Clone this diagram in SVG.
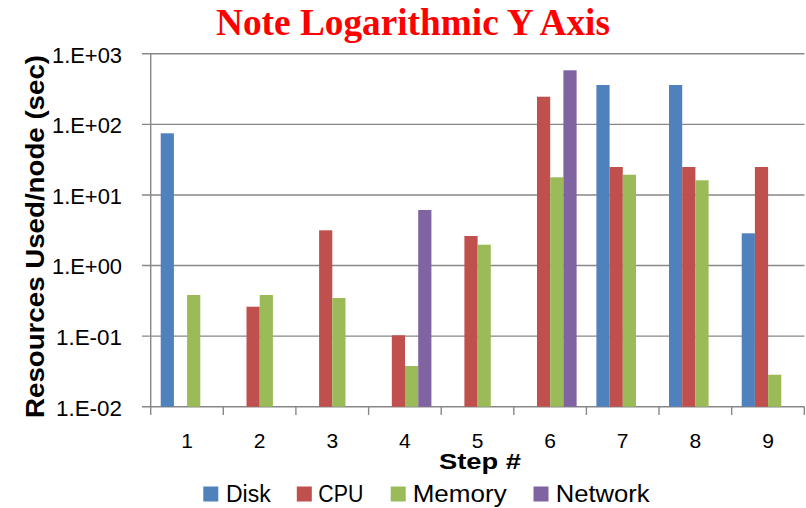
<svg xmlns="http://www.w3.org/2000/svg" width="806" height="508" viewBox="0 0 806 508">
  <style>
    .grid { stroke: #878787; stroke-width: 1.4; fill: none; }
    .lbl { font-family: "Liberation Sans", Arial, sans-serif; font-size: 21.5px; fill: #000; }
    .xl { font-family: "Liberation Sans", Arial, sans-serif; font-size: 21px; fill: #000; text-anchor: middle; }
    .ttl { font-family: "Liberation Sans", Arial, sans-serif; font-weight: bold; fill: #000; }
    .leg { font-family: "Liberation Sans", Arial, sans-serif; font-size: 23px; fill: #000; }
    .disk { fill: #4F81BD; }
    .cpu { fill: #C0504D; }
    .mem { fill: #9BBB59; }
    .net { fill: #8064A2; }
  </style>
  <rect width="806" height="508" fill="#fff"/>

  <!-- chart title -->
  <text x="413" y="34.5" text-anchor="middle" font-family="'Liberation Serif', 'Times New Roman', serif" font-weight="bold" font-size="37" fill="#FF0000" textLength="394" lengthAdjust="spacingAndGlyphs">Note Logarithmic Y Axis</text>

  <!-- gridlines and axes -->
  <g id="axes">
    <line class="grid" x1="142" y1="53.8" x2="804.5" y2="53.8"/>
    <line class="grid" x1="142" y1="124.4" x2="804.5" y2="124.4"/>
    <line class="grid" x1="142" y1="195" x2="804.5" y2="195"/>
    <line class="grid" x1="142" y1="265.5" x2="804.5" y2="265.5"/>
    <line class="grid" x1="142" y1="336.1" x2="804.5" y2="336.1"/>
    <line class="grid" x1="142" y1="406.7" x2="804.5" y2="406.7"/>
    <line class="grid" x1="150.7" y1="53.8" x2="150.7" y2="415"/>
    <line class="grid" x1="223.3" y1="406.7" x2="223.3" y2="415"/>
    <line class="grid" x1="295.9" y1="406.7" x2="295.9" y2="415"/>
    <line class="grid" x1="368.6" y1="406.7" x2="368.6" y2="415"/>
    <line class="grid" x1="441.2" y1="406.7" x2="441.2" y2="415"/>
    <line class="grid" x1="513.8" y1="406.7" x2="513.8" y2="415"/>
    <line class="grid" x1="586.4" y1="406.7" x2="586.4" y2="415"/>
    <line class="grid" x1="659.0" y1="406.7" x2="659.0" y2="415"/>
    <line class="grid" x1="731.7" y1="406.7" x2="731.7" y2="415"/>
    <line class="grid" x1="804.3" y1="406.7" x2="804.3" y2="415"/>
  </g>

  <!-- y tick labels -->
  <g id="y-labels" class="lbl" text-anchor="end">
    <text x="122" y="62.6" textLength="70" lengthAdjust="spacingAndGlyphs">1.E+03</text>
    <text x="122" y="133.2" textLength="70" lengthAdjust="spacingAndGlyphs">1.E+02</text>
    <text x="122" y="203.8" textLength="70" lengthAdjust="spacingAndGlyphs">1.E+01</text>
    <text x="122" y="274.3" textLength="70" lengthAdjust="spacingAndGlyphs">1.E+00</text>
    <text x="122" y="344.9" textLength="66" lengthAdjust="spacingAndGlyphs">1.E-01</text>
    <text x="122" y="415.5" textLength="66" lengthAdjust="spacingAndGlyphs">1.E-02</text>
  </g>

  <!-- y axis title -->
  <text class="ttl" transform="translate(44,236.5) rotate(-90)" x="0" y="0" text-anchor="middle" font-size="26" textLength="363" lengthAdjust="spacingAndGlyphs">Resources Used/node (sec)</text>

  <!-- bars: category width 72.62, bar width 13.2 -->
  <g id="bars">
    <g id="step1">
      <rect class="disk" x="160.7" y="133.3" width="13.2" height="273.4"/>
      <rect class="mem" x="187.1" y="295" width="13.2" height="111.7"/>
    </g>
    <g id="step2">
      <rect class="cpu" x="246.5" y="306.7" width="13.2" height="100"/>
      <rect class="mem" x="259.7" y="295" width="13.2" height="111.7"/>
    </g>
    <g id="step3">
      <rect class="cpu" x="319.1" y="230.3" width="13.2" height="176.4"/>
      <rect class="mem" x="332.3" y="298" width="13.2" height="108.7"/>
    </g>
    <g id="step4">
      <rect class="cpu" x="391.8" y="335.3" width="13.2" height="71.4"/>
      <rect class="mem" x="405.0" y="366" width="13.2" height="40.7"/>
      <rect class="net" x="418.2" y="210" width="13.2" height="196.7"/>
    </g>
    <g id="step5">
      <rect class="cpu" x="464.4" y="236" width="13.2" height="170.7"/>
      <rect class="mem" x="477.6" y="244.7" width="13.2" height="162"/>
    </g>
    <g id="step6">
      <rect class="cpu" x="537.0" y="96.7" width="13.2" height="310"/>
      <rect class="mem" x="550.2" y="177.3" width="13.2" height="229.4"/>
      <rect class="net" x="563.4" y="70.3" width="13.2" height="336.4"/>
    </g>
    <g id="step7">
      <rect class="disk" x="596.4" y="85" width="13.2" height="321.7"/>
      <rect class="cpu" x="609.6" y="167" width="13.2" height="239.7"/>
      <rect class="mem" x="622.8" y="174.7" width="13.2" height="232"/>
    </g>
    <g id="step8">
      <rect class="disk" x="669.0" y="85" width="13.2" height="321.7"/>
      <rect class="cpu" x="682.2" y="167" width="13.2" height="239.7"/>
      <rect class="mem" x="695.4" y="180.3" width="13.2" height="226.4"/>
    </g>
    <g id="step9">
      <rect class="disk" x="741.7" y="233.3" width="13.2" height="173.4"/>
      <rect class="cpu" x="754.9" y="167" width="13.2" height="239.7"/>
      <rect class="mem" x="768.1" y="374.7" width="13.2" height="32"/>
    </g>
  </g>

  <!-- x tick labels -->
  <g id="x-labels" class="xl">
    <text x="187.0" y="448">1</text>
    <text x="259.6" y="448">2</text>
    <text x="332.3" y="448">3</text>
    <text x="404.9" y="448">4</text>
    <text x="477.5" y="448">5</text>
    <text x="550.1" y="448">6</text>
    <text x="622.7" y="448">7</text>
    <text x="695.4" y="448">8</text>
    <text x="768.0" y="448">9</text>
  </g>

  <!-- x axis title -->
  <text class="ttl" x="480" y="469" text-anchor="middle" font-size="22" textLength="82" lengthAdjust="spacingAndGlyphs">Step #</text>

  <!-- legend -->
  <g id="legend">
    <g id="legend-disk">
      <rect class="disk" x="203.3" y="486.5" width="15" height="15"/>
      <text class="leg" x="226" y="501.5" textLength="44.7" lengthAdjust="spacingAndGlyphs">Disk</text>
    </g>
    <g id="legend-cpu">
      <rect class="cpu" x="296.8" y="486.5" width="15" height="15"/>
      <text class="leg" x="318.3" y="501.5" textLength="45" lengthAdjust="spacingAndGlyphs">CPU</text>
    </g>
    <g id="legend-memory">
      <rect class="mem" x="390.7" y="486.5" width="15" height="15"/>
      <text class="leg" x="412.7" y="501.5" textLength="94" lengthAdjust="spacingAndGlyphs">Memory</text>
    </g>
    <g id="legend-network">
      <rect class="net" x="533.5" y="486.5" width="15" height="15"/>
      <text class="leg" x="555.7" y="501.5" textLength="94" lengthAdjust="spacingAndGlyphs">Network</text>
    </g>
  </g>
</svg>
